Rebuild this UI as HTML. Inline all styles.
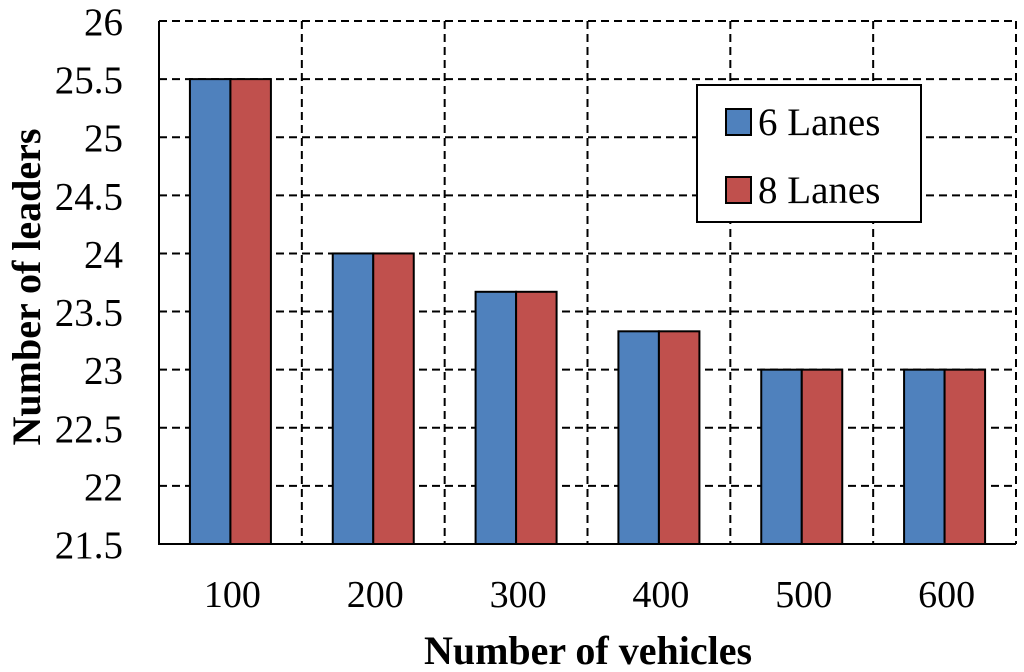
<!DOCTYPE html>
<html><head><meta charset="utf-8"><style>
html,body{margin:0;padding:0;background:#fff;}
svg{display:block;font-family:"Liberation Serif",serif;}
</style></head><body>
<svg id="chart" width="1024" height="672" viewBox="0 0 1024 672">
<g id="grid"></g><g id="bars"></g><g id="axes"></g><g id="labels"></g>
<text x="588" y="664" text-anchor="middle" font-size="40" font-weight="bold">Number of vehicles</text>
<text transform="translate(40,287) rotate(-90)" text-anchor="middle" font-size="40" font-weight="bold">Number of leaders</text>
<g>
<rect x="697" y="85" width="224" height="137" fill="#fff" stroke="#000" stroke-width="2"/>
<g>
<rect x="726" y="109" width="25" height="26" fill="#4f81bd" stroke="#000" stroke-width="2"/>
<text x="758" y="135" font-size="39">6 Lanes</text></g>
<g>
<rect x="726" y="177" width="25" height="26" fill="#c0504d" stroke="#000" stroke-width="2"/>
<text x="758" y="203" font-size="39">8 Lanes</text></g>
</g>
</svg>
<script>
const categories=["100","200","300","400","500","600"];
const lanes6=[25.5,24,23.67,23.33,23,23];
const lanes8=[25.5,24,23.67,23.33,23,23];
const yTicks=[21.5,22,22.5,23,23.5,24,24.5,25,25.5,26];
const yTickLabels=["21.5","22","22.5","23","23.5","24","24.5","25","25.5","26"];
const L=159,R=1016,T=21,B=544,yMin=21.5,yMax=26;
const NS="http://www.w3.org/2000/svg";
const step=(R-L)/categories.length;
function y(v){return B-(v-yMin)/(yMax-yMin)*(B-T);}
function xc(i){return L+step*(i+0.5);}
function mk(tag,attrs,parent){const e=document.createElementNS(NS,tag);for(const k in attrs)e.setAttribute(k,attrs[k]);document.getElementById(parent).appendChild(e);return e;}
yTicks.forEach((t,i)=>{
 if(t>yMin){const g=mk('line',{x1:L,x2:R,y1:y(t),y2:y(t),stroke:'#000','stroke-width':2,'stroke-dasharray':'8,5'},'grid');
 
 }
 const tx=mk('text',{x:123,y:y(t)+14,'text-anchor':'end','font-size':39},'labels');
 tx.textContent=yTickLabels[i];
 
 
});
for(let i=1;i<=categories.length;i++){
 const g=mk('line',{x1:L+step*i,x2:L+step*i,y1:T,y2:B,stroke:'#000','stroke-width':2,'stroke-dasharray':'8,5'},'grid');
 
 
}
const bw=40.5;
categories.forEach((c,i)=>{
 const b1=mk('rect',{x:xc(i)-bw,y:y(lanes6[i]),width:bw,height:B-y(lanes6[i]),fill:'#4f81bd',stroke:'#000','stroke-width':2},'bars');
 
 
 const b2=mk('rect',{x:xc(i),y:y(lanes8[i]),width:bw,height:B-y(lanes8[i]),fill:'#c0504d',stroke:'#000','stroke-width':2},'bars');
 
 
 const tx=mk('text',{x:xc(i)+2,y:607,'text-anchor':'middle','font-size':38},'labels');
 tx.textContent=c;
 
 
});
const ya=mk('line',{x1:L,x2:L,y1:T,y2:B+1,stroke:'#000','stroke-width':2},'axes');


const xa=mk('line',{x1:L-1,x2:R,y1:B,y2:B,stroke:'#000','stroke-width':2},'axes');


</script>
</body></html>
